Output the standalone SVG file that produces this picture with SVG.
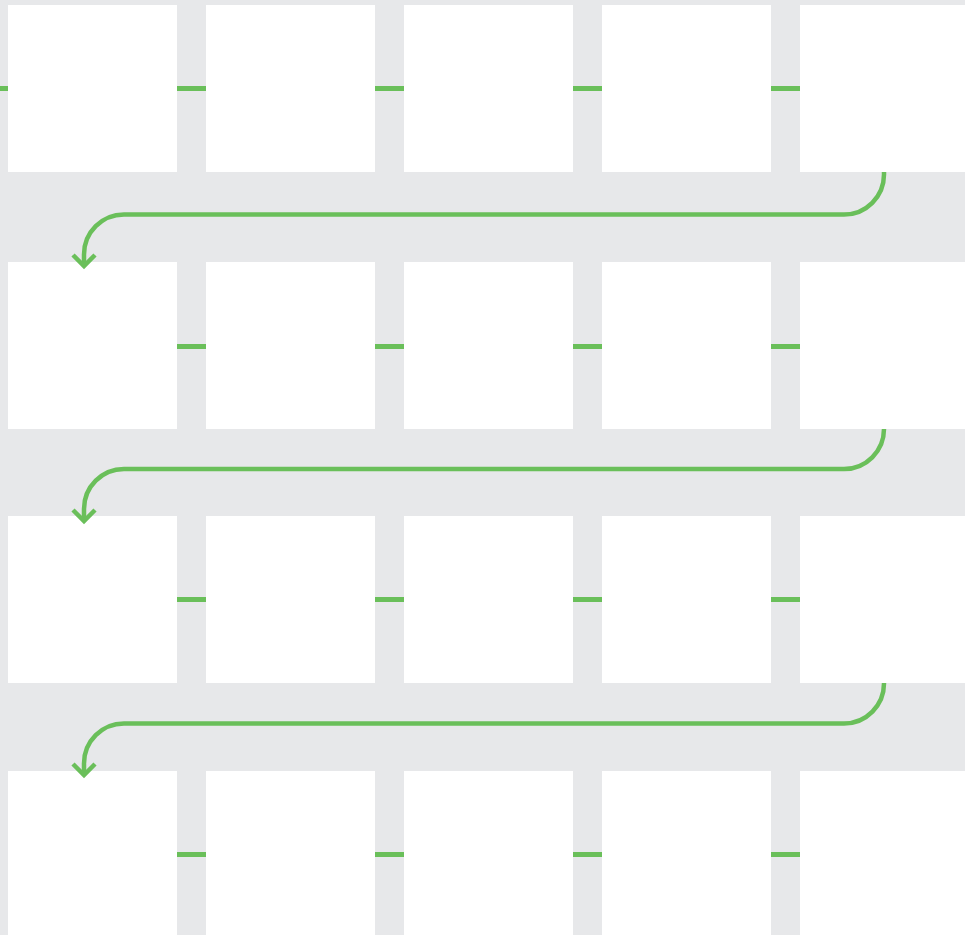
<svg xmlns="http://www.w3.org/2000/svg" width="965" height="935" viewBox="0 0 965 935">
<style>
.bg{fill:#e7e8ea}
.box{fill:#ffffff}
.stub{fill:#6abf5a}
.flow{fill:none;stroke:#6abf5a;stroke-width:4.5;stroke-linecap:butt;stroke-linejoin:round}
.head{fill:none;stroke:#6abf5a;stroke-width:4.5;stroke-linecap:butt;stroke-linejoin:miter}
</style>
<rect class="bg" x="0" y="0" width="965" height="935"/>
<g id="nodes">
<g id="r1c1"><rect class="box" x="8" y="5" width="169" height="167"/></g>
<g id="r1c2"><rect class="box" x="206" y="5" width="169" height="167"/></g>
<g id="r1c3"><rect class="box" x="404" y="5" width="169" height="167"/></g>
<g id="r1c4"><rect class="box" x="602" y="5" width="169" height="167"/></g>
<g id="r1c5"><rect class="box" x="800" y="5" width="165" height="167"/></g>
<g id="r2c1"><rect class="box" x="8" y="262" width="169" height="167"/></g>
<g id="r2c2"><rect class="box" x="206" y="262" width="169" height="167"/></g>
<g id="r2c3"><rect class="box" x="404" y="262" width="169" height="167"/></g>
<g id="r2c4"><rect class="box" x="602" y="262" width="169" height="167"/></g>
<g id="r2c5"><rect class="box" x="800" y="262" width="165" height="167"/></g>
<g id="r3c1"><rect class="box" x="8" y="516" width="169" height="167"/></g>
<g id="r3c2"><rect class="box" x="206" y="516" width="169" height="167"/></g>
<g id="r3c3"><rect class="box" x="404" y="516" width="169" height="167"/></g>
<g id="r3c4"><rect class="box" x="602" y="516" width="169" height="167"/></g>
<g id="r3c5"><rect class="box" x="800" y="516" width="165" height="167"/></g>
<g id="r4c1"><rect class="box" x="8" y="771" width="169" height="164"/></g>
<g id="r4c2"><rect class="box" x="206" y="771" width="169" height="164"/></g>
<g id="r4c3"><rect class="box" x="404" y="771" width="169" height="164"/></g>
<g id="r4c4"><rect class="box" x="602" y="771" width="169" height="164"/></g>
<g id="r4c5"><rect class="box" x="800" y="771" width="165" height="164"/></g>
</g>
<g id="connectors">
<rect class="stub" x="0" y="86" width="8" height="5"/>
<rect class="stub" x="177" y="86" width="29" height="5"/>
<rect class="stub" x="375" y="86" width="29" height="5"/>
<rect class="stub" x="573" y="86" width="29" height="5"/>
<rect class="stub" x="771" y="86" width="29" height="5"/>
<rect class="stub" x="177" y="344" width="29" height="5"/>
<rect class="stub" x="375" y="344" width="29" height="5"/>
<rect class="stub" x="573" y="344" width="29" height="5"/>
<rect class="stub" x="771" y="344" width="29" height="5"/>
<rect class="stub" x="177" y="597" width="29" height="5"/>
<rect class="stub" x="375" y="597" width="29" height="5"/>
<rect class="stub" x="573" y="597" width="29" height="5"/>
<rect class="stub" x="771" y="597" width="29" height="5"/>
<rect class="stub" x="177" y="852" width="29" height="5"/>
<rect class="stub" x="375" y="852" width="29" height="5"/>
<rect class="stub" x="573" y="852" width="29" height="5"/>
<rect class="stub" x="771" y="852" width="29" height="5"/>
<path class="flow" d="M884 172 V174.5 A40 40 0 0 1 844 214.5 H124 A40 40 0 0 0 84 254.5 V265"/>
<path class="head" d="M73 255 L84 266 L95 255"/>
<path class="flow" d="M884 429 A40 40 0 0 1 844 469 H124 A40 40 0 0 0 84 509 V520"/>
<path class="head" d="M73 510 L84 521 L95 510"/>
<path class="flow" d="M884 683 A40 40 0 0 1 844 723.5 H124 A40 40 0 0 0 84 763.5 V774"/>
<path class="head" d="M73 764 L84 775 L95 764"/>
</g>
</svg>
